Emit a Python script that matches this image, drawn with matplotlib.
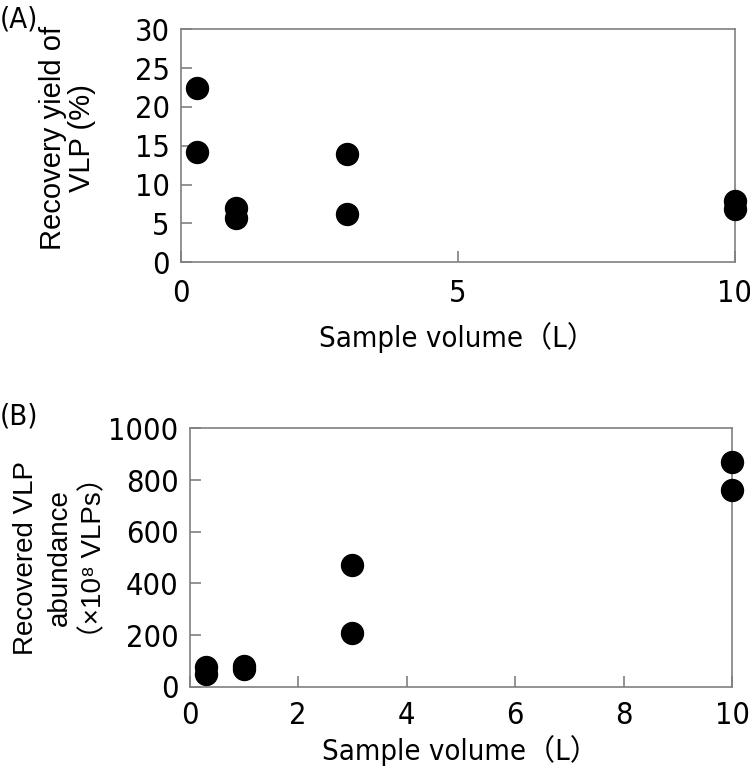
import matplotlib
matplotlib.use("Agg")
import matplotlib.pyplot as plt

# panel A: recovery yield
vol_a = [0.3, 0.3, 1, 1, 3, 3, 10, 10]
yield_a = [22.4, 14.2, 7.0, 5.7, 13.9, 6.2, 7.9, 6.9]

# panel B: recovered VLP abundance (x10^8)
vol_b = [0.3, 0.3, 1, 1, 3, 3, 10, 10]
abund_b = [76, 49, 80, 70, 472, 206, 870, 760]

narrow = ['Liberation Sans Narrow', 'DejaVu Sans', 'Noto Sans CJK JP']
wide = ['Liberation Sans', 'DejaVu Sans', 'Noto Sans CJK JP']
grey = '#808080'

fig = plt.figure(figsize=(7.5, 7.69), dpi=100)


def style(ax):
    for s in ax.spines.values():
        s.set_color(grey)
        s.set_linewidth(1.2)
    ax.tick_params(direction='in', color=grey, length=8, width=1.2,
                   labelsize=22, pad=8)
    for lab in ax.get_xticklabels() + ax.get_yticklabels():
        lab.set_family(narrow)
        lab.set_stretch('condensed')


ax1 = fig.add_axes([0.241, 0.659, 0.739, 0.303])
ax1.scatter(vol_a, yield_a, s=250, color='black', zorder=3, clip_on=False)
ax1.set_xlim(0, 10)
ax1.set_ylim(0, 30)
ax1.set_xticks([0, 5, 10])
ax1.set_yticks(range(0, 31, 5))
style(ax1)
ax1.tick_params(axis='x', pad=12)
ax1.set_xlabel('Sample volume（L）', family=narrow, stretch='condensed',
               fontsize=21, labelpad=10)
fig.text(0.09, 0.82, 'Recovery yield of\nVLP (%)', rotation=90,
         ha='center', va='center', family=wide, fontsize=21,
         multialignment='center', linespacing=1.05)
fig.text(0.0, 0.975, '(A)', family=narrow, stretch='condensed',
         fontsize=21, va='center')

ax2 = fig.add_axes([0.253, 0.107, 0.723, 0.336])
ax2.scatter(vol_b, abund_b, s=250, color='black', zorder=3, clip_on=False)
ax2.set_xlim(0, 10)
ax2.set_ylim(0, 1000)
ax2.set_xticks(range(0, 11, 2))
ax2.set_yticks(range(0, 1001, 200))
style(ax2)
ax2.tick_params(axis='x', pad=10)
ax2.set_xlabel('Sample volume（L）', family=narrow, stretch='condensed',
               fontsize=21, labelpad=4)
fig.text(0.08, 0.275, 'Recovered VLP\nabundance\n（×10⁸ VLPs）', rotation=90,
         ha='center', va='center', family=wide, fontsize=20,
         multialignment='center', linespacing=1.4)
fig.text(0.0, 0.459, '(B)', family=narrow, stretch='condensed',
         fontsize=21, va='center')

fig.savefig('out.png', dpi=100)
